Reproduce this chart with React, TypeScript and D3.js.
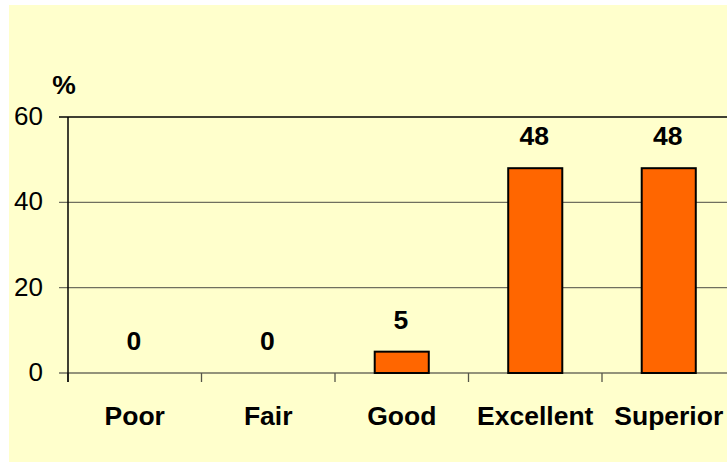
import React from "react";
import * as d3 from "d3";

const categories = ["Poor", "Fair", "Good", "Excellent", "Superior"];
const values = [0, 0, 5, 48, 48];
const yTicks = [0, 20, 40, 60];
const yUnit = "%";

const W = 727;
const H = 462;
const FONT = "'Liberation Sans', Arial, sans-serif";

export default function App() {
  const x = d3.scaleBand<string>().domain(categories).range([68, 735.5]).padding(0);
  const y = d3.scaleLinear().domain([0, 60]).range([373, 117]);
  const bw = x.bandwidth() * 0.405;
  const boundaries = categories.map((c) => x(c) as number).concat([735.5]);

  return (
    <svg width={W} height={H} style={{ position: "absolute", left: 0, top: 0 }} fontFamily={FONT}>
      <rect x={0} y={0} width={W} height={H} fill="#ffffff" />
      <rect x={9} y={5} width={W - 9} height={H - 5} fill="#FFFFCC" />
      {yTicks.map((t) => (
        <g key={t}>
          <line
            x1={59}
            x2={740}
            y1={y(t)}
            y2={y(t)}
            stroke={t === 60 ? "#000" : "#6f6f5f"}
            strokeWidth={1.3}
          />
          <text x={43} y={y(t) + 8} fontSize={26} textAnchor="end" fill="#000">
            {t}
          </text>
        </g>
      ))}
      {boundaries.map((b, i) => (
        <line key={i} x1={b} x2={b} y1={373} y2={382} stroke="#55554a" strokeWidth={1.3} />
      ))}
      <line x1={68} x2={68} y1={117} y2={382} stroke="#000" strokeWidth={1.5} />
      <text x={64} y={94} fontSize={26.5} fontWeight="bold" textAnchor="middle">
        {yUnit}
      </text>
      {categories.map((c, i) => {
        const cx = (x(c) as number) + x.bandwidth() / 2;
        const v = values[i];
        return (
          <g key={c}>
            {v > 0 && (
              <rect
                x={cx - bw / 2}
                y={y(v)}
                width={bw}
                height={y(0) - y(v)}
                fill="#FF6600"
                stroke="#000"
                strokeWidth={2}
              />
            )}
            <text x={cx - 1} y={y(v) - 23} fontSize={26.5} fontWeight="bold" textAnchor="middle">
              {v}
            </text>
            <text x={cx} y={424.5} fontSize={26.5} fontWeight="bold" textAnchor="middle">
              {c}
            </text>
          </g>
        );
      })}
    </svg>
  );
}
